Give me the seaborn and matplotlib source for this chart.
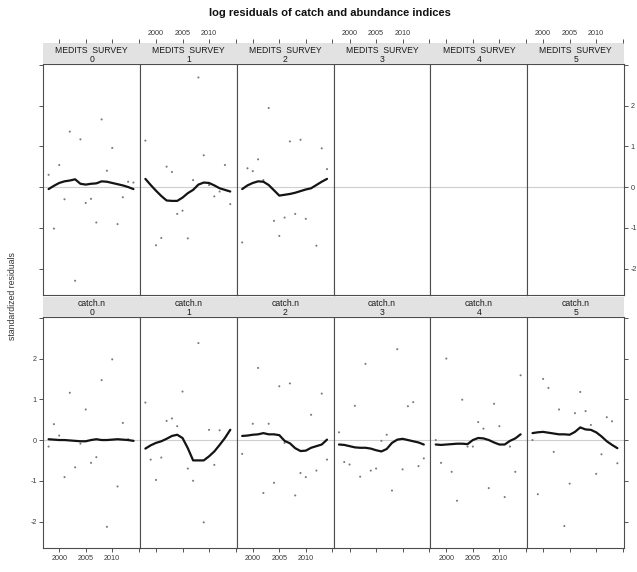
import numpy as np
import pandas as pd
import matplotlib
matplotlib.use("Agg")
import matplotlib.pyplot as plt
import seaborn as sns

# ---------------- data ----------------
years = [1998, 1999, 2000, 2001, 2002, 2003, 2004, 2005, 2006,
         2007, 2008, 2009, 2010, 2011, 2012, 2013, 2014]
ages = [0, 1, 2, 3, 4, 5]
x_ticks = [2000, 2005, 2010, 2015]
x_tick_labels = ["2000", "2005", "2010", ""]
y_ticks = [-2, -1, 0, 1, 2, 3]
y_tick_labels = ["-2", "-1", "0", "1", "2", ""]

# MEDITS SURVEY residuals (ages 0-2; ages 3-5 have no data)
medits_0 = [0.30, -1.02, 0.54, -0.30, 1.36, -2.30, 1.17, -0.39, -0.29,
            -0.87, 1.66, 0.40, 0.96, -0.91, -0.25, 0.13, 0.11]
medits_1 = [1.14, np.nan, -1.43, -1.25, 0.50, 0.37, -0.66, -0.58, -1.26,
            0.17, 2.69, 0.78, 0.05, -0.23, -0.11, 0.54, -0.42]
medits_2 = [-1.36, 0.46, 0.39, 0.68, 0.17, 1.94, -0.83, -1.20, -0.75,
            1.12, -0.66, 1.16, -0.78, np.nan, -1.44, 0.95, 0.44]

# catch.n residuals (ages 0-5)
catch_0 = [-0.16, 0.39, 0.11, -0.91, 1.16, -0.67, -0.09, 0.75, -0.56,
           -0.42, 1.47, -2.13, 1.98, -1.14, 0.42, 0.02, -0.02]
catch_1 = [0.92, -0.48, -0.98, -0.43, 0.47, 0.53, 0.34, 1.19, -0.70,
           -1.00, 2.38, -2.02, 0.25, -0.61, 0.24, np.nan, 0.25]
catch_2 = [-0.34, np.nan, 0.40, 1.77, -1.30, 0.40, -1.05, 1.32, -0.07,
           1.39, -1.36, -0.81, -0.91, 0.62, -0.75, 1.14, -0.48]
catch_3 = [0.19, -0.54, -0.60, 0.84, -0.90, 1.87, -0.75, -0.70, -0.02,
           0.13, -1.24, 2.23, -0.72, 0.83, 0.93, -0.64, -0.45]
catch_4 = [0.00, -0.56, 2.00, -0.78, -1.49, 0.99, -0.16, -0.16, 0.44,
           0.28, -1.18, 0.89, 0.34, -1.40, -0.16, -0.78, 1.59]
catch_5 = [0.00, -1.33, 1.50, 1.28, -0.29, 0.75, -2.11, -1.07, 0.66,
           1.18, 0.71, 0.37, -0.83, -0.35, 0.56, 0.46, -0.57]

# smoothed trend lines as drawn in the picture
medits_0_smooth = [-0.05, 0.03, 0.10, 0.14, 0.16, 0.19, 0.08, 0.06, 0.08,
                   0.09, 0.14, 0.13, 0.10, 0.07, 0.04, 0.00, -0.05]
medits_1_smooth = [0.20, 0.05, -0.09, -0.22, -0.33, -0.34, -0.34, -0.26, -0.15,
                   -0.07, 0.06, 0.11, 0.10, 0.04, -0.03, -0.07, -0.11]
medits_2_smooth = [-0.05, 0.04, 0.10, 0.14, 0.13, 0.05, -0.08, -0.21, -0.19,
                   -0.17, -0.14, -0.10, -0.06, -0.03, 0.05, 0.13, 0.20]
catch_0_smooth = [0.02, 0.01, 0.00, 0.00, -0.01, -0.02, -0.03, -0.03, 0.00,
                  0.02, 0.00, 0.00, 0.01, 0.02, 0.01, 0.00, -0.02]
catch_1_smooth = [-0.21, -0.13, -0.07, -0.03, 0.03, 0.10, 0.13, 0.05, -0.20,
                  -0.50, -0.50, -0.50, -0.40, -0.28, -0.12, 0.05, 0.25]
catch_2_smooth = [0.10, 0.11, 0.13, 0.14, 0.17, 0.14, 0.14, 0.12, -0.02,
                  -0.08, -0.20, -0.27, -0.26, -0.19, -0.15, -0.11, 0.01]
catch_3_smooth = [-0.11, -0.12, -0.15, -0.18, -0.19, -0.19, -0.21, -0.25, -0.28,
                  -0.22, -0.07, 0.01, 0.03, 0.00, -0.03, -0.06, -0.11]
catch_4_smooth = [-0.11, -0.12, -0.11, -0.10, -0.09, -0.09, -0.10, 0.00, 0.05,
                  0.04, 0.00, -0.06, -0.11, -0.11, -0.02, 0.04, 0.14]
catch_5_smooth = [0.17, 0.19, 0.20, 0.18, 0.16, 0.14, 0.14, 0.13, 0.20,
                  0.31, 0.26, 0.25, 0.19, 0.09, -0.03, -0.12, -0.20]

title = "log residuals of catch and abundance indices"
y_label = "standardized residuals"
row_names = ["MEDITS  SURVEY", "catch.n"]

resid = {("MEDITS  SURVEY", 0): (medits_0, medits_0_smooth),
         ("MEDITS  SURVEY", 1): (medits_1, medits_1_smooth),
         ("MEDITS  SURVEY", 2): (medits_2, medits_2_smooth),
         ("catch.n", 0): (catch_0, catch_0_smooth),
         ("catch.n", 1): (catch_1, catch_1_smooth),
         ("catch.n", 2): (catch_2, catch_2_smooth),
         ("catch.n", 3): (catch_3, catch_3_smooth),
         ("catch.n", 4): (catch_4, catch_4_smooth),
         ("catch.n", 5): (catch_5, catch_5_smooth)}

rows = []
for (qname, age), (vals, smooth) in resid.items():
    for yr, v, s in zip(years, vals, smooth):
        rows.append(dict(qname=qname, age=age, year=yr, resid=v, smooth=s))
df = pd.DataFrame(rows)

# ---------------- figure ----------------
sns.set_style("white")
plt.rcParams["font.family"] = ["Liberation Sans", "DejaVu Sans"]
plt.rcParams["axes.unicode_minus"] = False

W, H = 637, 572
fig = plt.figure(figsize=(W / 100, H / 100), dpi=100)


def box(x0, y0, w, h):
    return [x0 / W, 1 - (y0 + h) / H, w / W, h / H]


left, right = 43.3, 624.0
pw = (right - left) / 6
panel_top = [64.0, 317.0]
panel_h = 231.0
strip_top = [43.3, 296.5]
strip_h = [20.7, 20.5]
baselines = [(52.7, 61.5), (305.8, 315.4)]

xlim = (1997.0, 2015.25)
ylim = (-2.65, 3.02)
edge = "#4d4d4d"
tick_kw = dict(direction="out", length=3.2, width=0.6, colors="#3a3a3a",
               labelsize=5.2, pad=1.5)

for r, qname in enumerate(row_names):
    for c, age in enumerate(ages):
        x0 = left + c * pw
        ax = fig.add_axes(box(x0, panel_top[r], pw, panel_h))
        ax.set_facecolor("white")
        ax.axhline(0, color="#cfcfcf", lw=0.8, zorder=0)
        sub = df[(df.qname == qname) & (df.age == age)]
        if len(sub):
            sns.scatterplot(data=sub, x="year", y="resid", ax=ax, s=2.2,
                            color="#7a7a7a", edgecolor="none", linewidth=0,
                            zorder=2, legend=False)
            sns.lineplot(data=sub, x="year", y="smooth", ax=ax, color="#141414",
                         lw=1.6, zorder=3, legend=False)
        ax.set_xlim(*xlim)
        ax.set_ylim(*ylim)
        ax.set_xlabel("")
        ax.set_ylabel("")
        ax.set_xticks(x_ticks)
        ax.set_xticklabels(x_tick_labels)
        ax.set_yticks(y_ticks)
        ax.set_yticklabels(y_tick_labels)
        for sp in ax.spines.values():
            sp.set_visible(True)
            sp.set_color(edge)
            sp.set_linewidth(0.8)
        ax.tick_params(axis="both", **tick_kw)
        ax.tick_params(axis="x", bottom=(r == 1), labelbottom=(r == 1 and c % 2 == 0),
                       top=False, labeltop=False)
        ax.tick_params(axis="y", left=(c == 0), labelleft=(c == 0 and r == 1),
                       right=(c == 5), labelright=(c == 5 and r == 0))

        # strip
        sax = fig.add_axes(box(x0, strip_top[r], pw, strip_h[r]))
        sax.set_facecolor("#e2e2e2")
        for sp in sax.spines.values():
            sp.set_visible(False)
        sax.set_xlim(*xlim)
        sax.set_ylim(0, 1)
        sax.set_yticks([])
        if r == 0:
            sax.set_xticks(x_ticks)
            sax.set_xticklabels(x_tick_labels)
            sax.tick_params(axis="x", **tick_kw)
            sax.tick_params(axis="x", top=True, labeltop=(c % 2 == 1),
                            bottom=False, labelbottom=False)
        else:
            sax.set_xticks([])
        xc = (x0 + pw / 2) / W
        fig.text(xc, 1 - baselines[r][0] / H, qname, ha="center", va="baseline",
                 fontsize=6.2, color="#1a1a1a")
        fig.text(xc, 1 - baselines[r][1] / H, str(age), ha="center", va="baseline",
                 fontsize=6.2, color="#1a1a1a")

fig.text(330 / W, 1 - 13 / H, title, ha="center", va="center",
         fontsize=8, fontweight="bold", color="#111111")
fig.text(13 / W, 1 - 296 / H, y_label, ha="center", va="center",
         rotation=90, fontsize=6.3, color="#333333")

fig.savefig("out.png", dpi=100)
